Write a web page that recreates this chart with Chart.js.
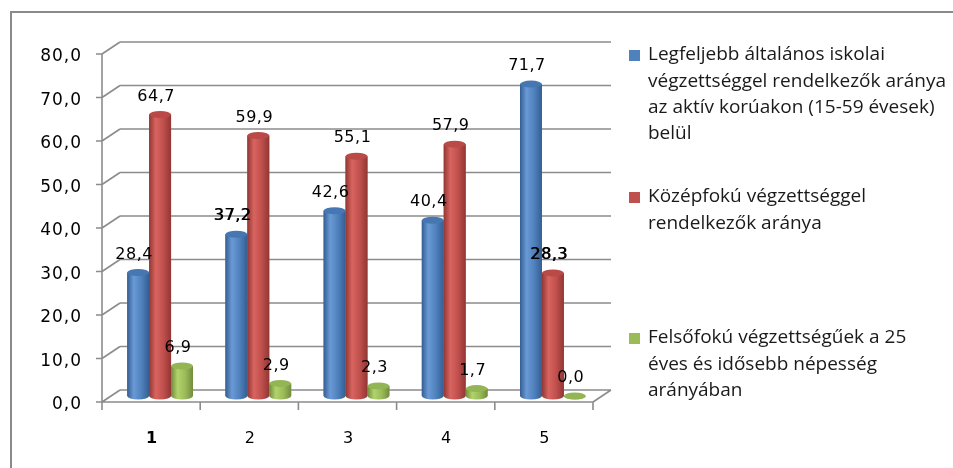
<!DOCTYPE html>
<html><head><meta charset="utf-8">
<script src="https://cdn.jsdelivr.net/npm/chart.js@4"></script>
<style>html,body{margin:0;padding:0;background:#fff;}#wrap{width:953px;height:468px;position:relative}</style>
</head><body><div id="wrap"><canvas id="c" width="953" height="468"></canvas></div>
<script>
// ---- data ----
const categories = ['1', '2', '3', '4', '5'];
const alapfoku = [28.4, 37.2, 42.6, 40.4, 71.7];
const kozepfoku = [64.7, 59.9, 55.1, 57.9, 28.3];
const felsofoku = [6.9, 2.9, 2.3, 1.7, 0.0];
const seriesLabels = [
  ['Legfeljebb általános iskolai', 'végzettséggel rendelkezők aránya', 'az aktív korúakon (15-59 évesek)', 'belül'],
  ['Középfokú végzettséggel', 'rendelkezők aránya'],
  ['Felsőfokú végzettségűek a 25', 'éves és idősebb népesség', 'arányában']
];
const yMin = 0, yMax = 80, yStep = 10;

// ---- styles ----
const colors = [
  { base: '#4F81BD', light: '#6A9AD6', dark: '#345E93', cap: '#4677B3' },
  { base: '#C0504D', light: '#D8645F', dark: '#923633', cap: '#B94A47' },
  { base: '#9BBB59', light: '#B2D26C', dark: '#728C3C', cap: '#94B553' }
];
const DX = 9, DY = 6;
const fmt = v => Number(v).toFixed(1).replace('.', ',');

const frame3d = {
  id: 'frame3d',
  beforeDatasetsDraw(chart) {
    const ctx = chart.ctx, ys = chart.scales.y, xs = chart.scales.x;
    const L = xs.left, R = xs.right;
    ctx.save();
    ctx.strokeStyle = '#8c8c8c';
    ctx.lineWidth = 1.6;
    ctx.beginPath();
    for (let v = yMin; v <= yMax; v += yStep) {
      const y = ys.getPixelForValue(v);
      ctx.moveTo(L + DX, y - DY); ctx.lineTo(R + DX, y - DY);
      ctx.moveTo(L - DX, y + DY); ctx.lineTo(L + DX, y - DY);
      ctx.moveTo(L - DX - 6, y + DY); ctx.lineTo(L - DX, y + DY);
    }
    const y0 = ys.getPixelForValue(yMin), yT = ys.getPixelForValue(yMax);
    ctx.moveTo(L - DX, yT + DY); ctx.lineTo(L - DX, y0 + DY);
    ctx.moveTo(L - DX, y0 + DY); ctx.lineTo(R - DX, y0 + DY);
    ctx.moveTo(R - DX, y0 + DY); ctx.lineTo(R + DX, y0 - DY);
    const n = categories.length;
    for (let i = 0; i <= n; i++) {
      const x = L - DX + i * (R - L) / n;
      ctx.moveTo(x, y0 + DY); ctx.lineTo(x, y0 + DY + 8);
    }
    ctx.stroke();
    ctx.restore();
  },
  beforeDraw(chart) {
    const ctx = chart.ctx;
    ctx.save();
    ctx.fillStyle = '#fff';
    ctx.fillRect(0, 0, chart.width, chart.height);
    ctx.strokeStyle = '#8a8a8a';
    ctx.lineWidth = 2;
    ctx.strokeRect(11, 12, 1200, 1200);
    ctx.restore();
    // slightly wider tracking for axis tick labels (reference text is horizontally stretched)
    ctx.letterSpacing = '1px';
  },
  afterDraw(chart) {
    chart.ctx.letterSpacing = '0px';
  }
};

const cylinders = {
  id: 'cylinders',
  afterDatasetsDraw(chart) {
    const ctx = chart.ctx;
    ctx.save();
    chart.data.datasets.forEach((ds, di) => {
      const c = colors[di];
      chart.getDatasetMeta(di).data.forEach(bar => {
        const w = bar.width, x0 = bar.x - w / 2, x1 = bar.x + w / 2;
        const top = bar.y, base = bar.base, ry = 3.5;
        const g = ctx.createLinearGradient(x0, 0, x1, 0);
        g.addColorStop(0, c.dark);
        g.addColorStop(0.3, c.light);
        g.addColorStop(0.65, c.base);
        g.addColorStop(1, c.dark);
        ctx.fillStyle = g;
        ctx.beginPath();
        ctx.moveTo(x0, top);
        ctx.lineTo(x0, base);
        ctx.ellipse(bar.x, base, w / 2, ry, 0, Math.PI, 0, true);
        ctx.lineTo(x1, top);
        ctx.closePath();
        ctx.fill();
        ctx.fillStyle = c.cap;
        ctx.beginPath();
        ctx.ellipse(bar.x, top, w / 2, ry, 0, 0, Math.PI * 2);
        ctx.fill();
      });
    });
    ctx.restore();
  }
};

const valueLabels = {
  id: 'valueLabels',
  afterDatasetsDraw(chart) {
    const ctx = chart.ctx;
    ctx.save();
    ctx.letterSpacing = '0.5px';
    ctx.fillStyle = '#000';
    ctx.textAlign = 'center';
    ctx.textBaseline = 'middle';
    ctx.font = '16px "DejaVu Sans"';
    chart.data.datasets.forEach((ds, di) => {
      chart.getDatasetMeta(di).data.forEach((bar, i) => {
        const heavy = (di === 0 && i === 1) || (di === 1 && i === 4);
        const x = bar.x - 4, y = bar.y - 18;
        ctx.fillText(fmt(ds.data[i]), x, y);
        if (heavy) ctx.fillText(fmt(ds.data[i]), x + 0.7, y);
      });
    });
    ctx.restore();
  }
};

const sideLegend = {
  id: 'sideLegend',
  afterDraw(chart) {
    const ctx = chart.ctx;
    const boxX = 629, textX = 648, lineH = 26.2;
    const firstY = [55, 197, 338];
    ctx.save();
    ctx.letterSpacing = '0px';
    ctx.font = '19px "Open Sans"';
    ctx.textBaseline = 'middle';
    ctx.textAlign = 'left';
    seriesLabels.forEach((lines, si) => {
      ctx.fillStyle = colors[si].base;
      ctx.fillRect(boxX, firstY[si] - 5, 11, 11);
      ctx.fillStyle = '#1a1a1a';
      lines.forEach((t, li) => ctx.fillText(t, textX, firstY[si] + li * lineH));
    });
    ctx.restore();
  }
};

new Chart(document.getElementById('c'), {
  type: 'bar',
  data: {
    labels: categories,
    datasets: [
      { label: seriesLabels[0].join(' '), data: alapfoku, backgroundColor: colors[0].base },
      { label: seriesLabels[1].join(' '), data: kozepfoku, backgroundColor: colors[1].base },
      { label: seriesLabels[2].join(' '), data: felsofoku, backgroundColor: colors[2].base }
    ]
  },
  options: {
    responsive: false,
    animation: false,
    devicePixelRatio: 1,
    layout: { padding: { top: 48, right: 351, left: 0, bottom: 0 } },
    datasets: { bar: { barPercentage: 1.0, categoryPercentage: 0.67 } },
    plugins: { legend: { display: false }, tooltip: { enabled: false } },
    scales: {
      x: {
        grid: { display: false, drawTicks: false },
        border: { display: false },
        ticks: {
          color: '#000',
          padding: 33,
          labelOffset: -8,
          font: ctx => ({ family: 'DejaVu Sans', size: 16, weight: ctx.index === 0 ? 'bold' : 'normal' })
        },
        afterFit(s) { s.height = 72; }
      },
      y: {
        min: yMin, max: yMax,
        grid: { display: false, drawTicks: false },
        border: { display: false },
        ticks: {
          stepSize: yStep,
          color: '#000',
          padding: 29,
          labelOffset: 9,
          font: { family: 'DejaVu Sans', size: 17 },
          callback: v => fmt(v)
        },
        afterFit(s) { s.width = 111; }
      }
    }
  },
  plugins: [frame3d, cylinders, valueLabels, sideLegend]
});
</script></body></html>
